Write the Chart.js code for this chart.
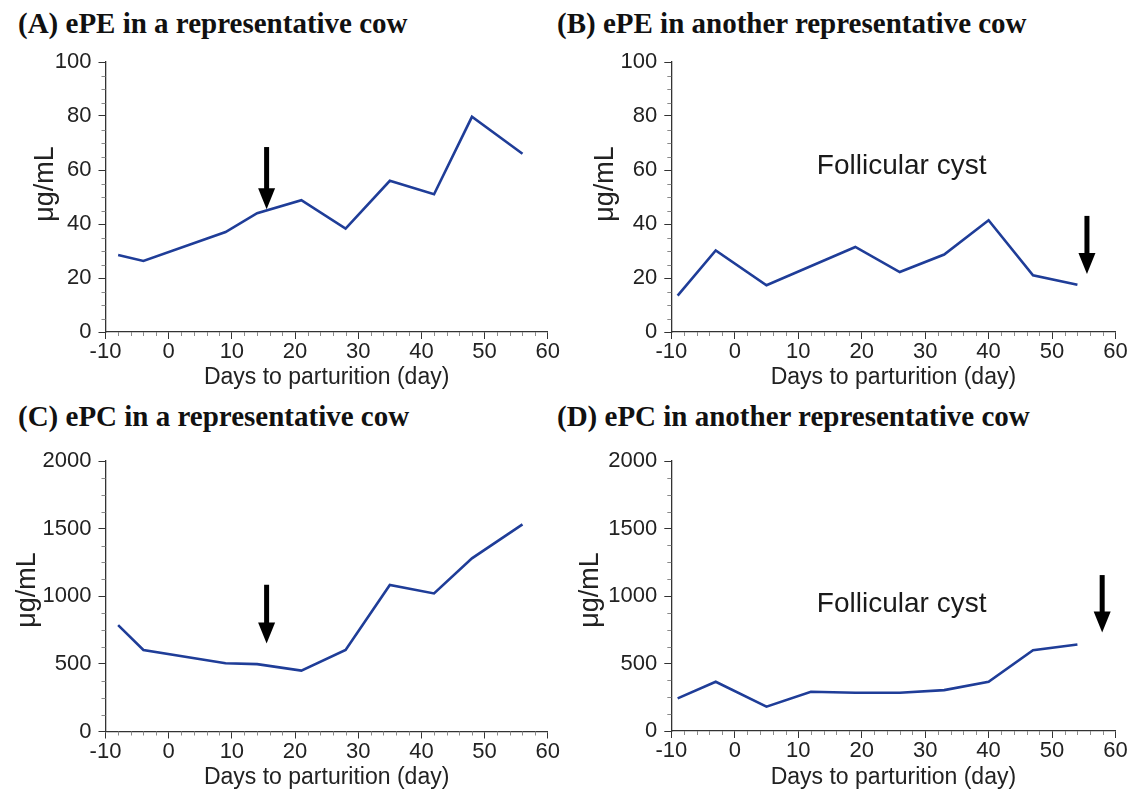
<!DOCTYPE html>
<html>
<head>
<meta charset="utf-8">
<script src="https://cdn.jsdelivr.net/npm/chart.js@4.4.1/dist/chart.umd.min.js"></script>
<style>
  body { margin: 0; background: #fff; width: 1136px; height: 794px; position: relative; overflow: hidden; }
  canvas { position: absolute; }
  .ttl { position: absolute; font-family: "Liberation Serif", "Times New Roman", serif; font-weight: bold;
         font-size: 29px; line-height: 29px; color: #111; white-space: nowrap; }
</style>
</head>
<body>
<div class="ttl" style="left:18px; top:9px;">(A) ePE in a representative cow</div>
<div class="ttl" style="left:557px; top:9px;">(B) ePE in another representative cow</div>
<div class="ttl" style="left:18px; top:402px;">(C) ePC in a representative cow</div>
<div class="ttl" style="left:557px; top:402px;">(D) ePC in another representative cow</div>

<canvas id="chartA" width="560" height="355" style="left:0px; top:40px;"></canvas>
<canvas id="chartB" width="576" height="355" style="left:560px; top:40px;"></canvas>
<canvas id="chartC" width="560" height="354" style="left:0px; top:440px;"></canvas>
<canvas id="chartD" width="576" height="354" style="left:560px; top:440px;"></canvas>

<script>
// data
const daysA = [-8, -4, 9, 14, 21, 28, 35, 42, 48, 56];
const ePE_A = [28.5, 26.3, 37, 44, 48.8, 38.3, 56, 51, 79.7, 66];

const daysB = [-9, -3, 5, 19, 26, 33, 40, 47, 54];
const ePE_B = [13.5, 30.2, 17.3, 31.5, 22.2, 28.7, 41.4, 21, 17.5];

const daysC = [-8, -4, 9, 14, 21, 28, 35, 42, 48, 56];
const ePC_C = [786, 603, 505, 498, 450, 603, 1083, 1021, 1280, 1531];

const daysD = [-9, -3, 5, 12, 19, 26, 33, 40, 47, 54];
const ePC_D = [242, 365, 180, 291, 283, 283, 303, 365, 599, 641];

const xTicks = [-10, 0, 10, 20, 30, 40, 50, 60];
const ePETicks = [0, 20, 40, 60, 80, 100];
const ePCTicks = [0, 500, 1000, 1500, 2000];

const xLabel = 'Days to parturition (day)';
const yLabel = 'μg/mL';

// arrows (x, top, tip) and note text in data units
const arrowA = [15.5, 68.5, 45.5];
const arrowB = [55.5, 43, 21.5];
const arrowC = [15.5, 1085, 650];
const arrowD = [57.9, 1155, 730];
const noteB = [26.3, 61.5, "Follicular cyst"];
const noteD = [26.3, 935, "Follicular cyst"];

const FONT = "'Liberation Sans', Arial, Helvetica, sans-serif";
const LINE = '#1f3d98';
const TICK_SIZE = 22, XTITLE_SIZE = 23, YTITLE_SIZE = 27;

// minor ticks, y title, arrows and note text
const notesPlugin = {
    id: 'notes',
    afterDraw(chart, args, opts) {
        const ctx = chart.ctx;
        const xs = chart.scales.x, ys = chart.scales.y;
        const area = chart.chartArea;
        ctx.save();
        ctx.strokeStyle = '#8a8a8a';
        ctx.lineWidth = 1;
        ctx.beginPath();
        for (let v = xs.min; v <= xs.max + 1e-9; v += opts.xMinor) {
            if (Math.abs(v % 10) < 1e-9) continue;
            const px = Math.round(xs.getPixelForValue(v)) + 0.5;
            ctx.moveTo(px, area.bottom);
            ctx.lineTo(px, area.bottom + 4);
        }
        for (let v = ys.min; v <= ys.max + 1e-9; v += opts.yMinor) {
            if (Math.abs(v % opts.yMajor) < 1e-9) continue;
            const py = Math.round(ys.getPixelForValue(v)) + 0.5;
            ctx.moveTo(area.left - 4, py);
            ctx.lineTo(area.left, py);
        }
        ctx.stroke();

        // y axis title, a bit above the middle like the original
        ctx.save();
        ctx.translate(opts.yTitle[0], opts.yTitle[1]);
        ctx.rotate(-Math.PI / 2);
        ctx.fillStyle = '#222';
        ctx.font = YTITLE_SIZE + 'px ' + FONT;
        ctx.textAlign = 'center';
        ctx.textBaseline = 'middle';
        ctx.fillText(yLabel, 0, 0);
        ctx.restore();

        if (opts.arrow) {
            const [ax, atop, atip] = opts.arrow;
            const px = xs.getPixelForValue(ax);
            const y0 = ys.getPixelForValue(atop), y1 = ys.getPixelForValue(atip);
            const head = 21, hw = 8.5;
            ctx.fillStyle = '#000';
            ctx.fillRect(px - 2.5, y0, 5, y1 - y0 - head + 1);
            ctx.beginPath();
            ctx.moveTo(px - hw, y1 - head);
            ctx.lineTo(px + hw, y1 - head);
            ctx.lineTo(px, y1);
            ctx.closePath();
            ctx.fill();
        }
        if (opts.note) {
            const [nx, ny, txt] = opts.note;
            ctx.fillStyle = '#1a1a1a';
            ctx.font = '28px ' + FONT;
            ctx.textAlign = 'center';
            ctx.textBaseline = 'middle';
            ctx.fillText(txt, xs.getPixelForValue(nx), ys.getPixelForValue(ny));
        }
        ctx.restore();
    }
};

function makeChart(id, box, area, yTitlePos, xTitleY, days, values, yTicks, yMinor, arrow, note) {
    const [cl, ct, cw, ch] = box;
    const [aL, aT, aR, aB] = area;
    const xLH = XTITLE_SIZE * 1.2;
    const yWidth = aL - cl;
    const xHeight = xTitleY + xLH / 2 - aB;
    const padBottom = ct + ch - aB - xHeight;
    const yMax = yTicks[yTicks.length - 1];
    const yStep = yTicks[1] - yTicks[0];

    return new Chart(document.getElementById(id), {
        type: 'line',
        data: {
            datasets: [{
                data: days.map((d, i) => ({ x: d, y: values[i] })),
                borderColor: LINE,
                borderWidth: 2.6,
                pointRadius: 0,
                tension: 0,
                fill: false
            }]
        },
        options: {
            responsive: false,
            animation: false,
            layout: { padding: { left: 0, top: aT - ct, right: cl + cw - aR, bottom: padBottom } },
            plugins: {
                legend: { display: false },
                tooltip: { enabled: false },
                notes: {
                    xMinor: 2, yMinor: yMinor, yMajor: yStep, arrow: arrow, note: note,
                    yTitle: [yTitlePos[0] - cl, yTitlePos[1] - ct]
                }
            },
            scales: {
                x: {
                    type: 'linear',
                    min: xTicks[0],
                    max: xTicks[xTicks.length - 1],
                    afterFit: (s) => { s.height = xHeight; },
                    afterBuildTicks: (s) => { s.ticks = xTicks.map(v => ({ value: v })); },
                    grid: { drawOnChartArea: false, tickLength: 7, tickColor: '#333', tickWidth: 1 },
                    border: { color: '#333', width: 1.3 },
                    ticks: { color: '#222', font: { family: FONT, size: TICK_SIZE }, padding: 0, maxRotation: 0,
                             callback: (v) => String(v) },
                    title: { display: true, text: xLabel, color: '#222',
                             font: { family: FONT, size: XTITLE_SIZE }, padding: 0 }
                },
                y: {
                    min: 0,
                    max: yMax,
                    afterFit: (s) => { s.width = yWidth; },
                    afterBuildTicks: (s) => { s.ticks = yTicks.map(v => ({ value: v })); },
                    grid: { drawOnChartArea: false, tickLength: 7, tickColor: '#333', tickWidth: 1 },
                    border: { color: '#333', width: 1.3 },
                    ticks: { color: '#222', font: { family: FONT, size: TICK_SIZE }, padding: 7,
                             callback: (v) => String(v) },
                    title: { display: false }
                }
            }
        },
        plugins: [notesPlugin]
    });
}

document.addEventListener("DOMContentLoaded", function () {
    makeChart('chartA', [0, 40, 560, 355], [105.5, 62, 550, 332], [46, 184], 378,
        daysA, ePE_A, ePETicks, 5, arrowA, null);
    makeChart('chartB', [560, 40, 576, 355], [671.3, 62, 1115.5, 332], [606, 184], 378,
        daysB, ePE_B, ePETicks, 5, arrowB, noteB);
    makeChart('chartC', [0, 440, 560, 354], [105.5, 461, 550, 731.5], [28, 590], 778,
        daysC, ePC_C, ePCTicks, 125, arrowC, null);
    makeChart('chartD', [560, 440, 576, 354], [671.3, 461, 1115.5, 731], [591, 590], 778,
        daysD, ePC_D, ePCTicks, 125, arrowD, noteD);
});
</script>
</body>
</html>
